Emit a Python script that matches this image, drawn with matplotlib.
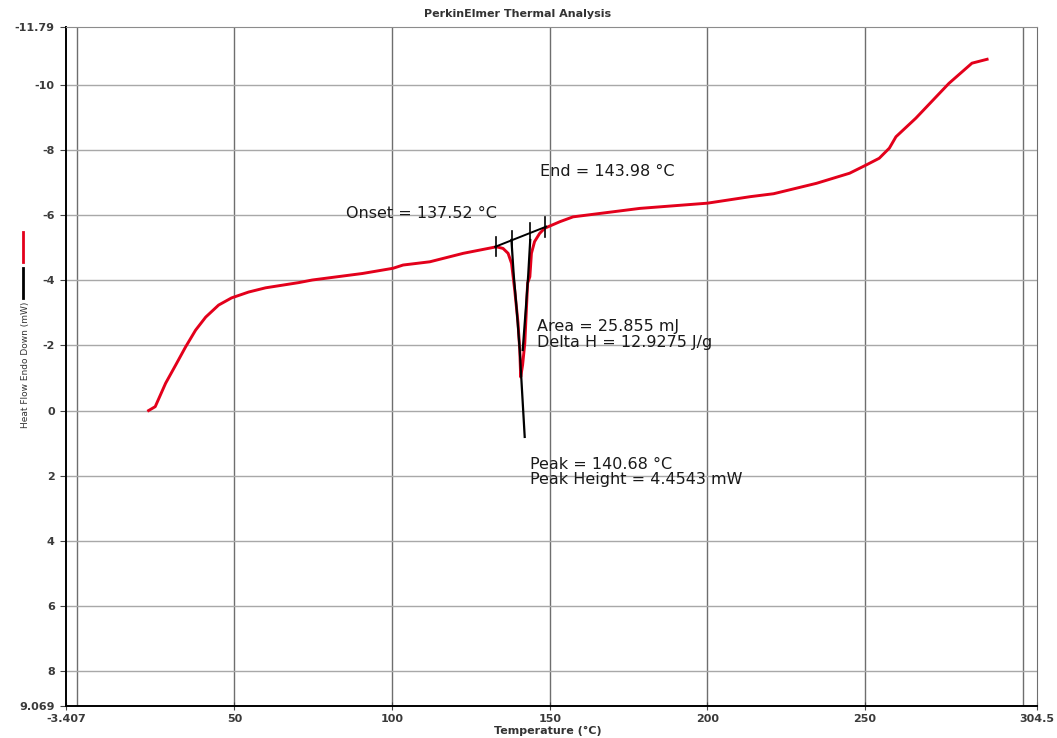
import matplotlib
matplotlib.use('Agg')
import numpy as np
import matplotlib.pyplot as plt
from matplotlib.lines import Line2D

plt.rcParams['font.family'] = ['DejaVu Sans']

# 主曲线 (红色) 读数
temp = [22.8, 24.9, 28.2, 31.4, 34.5, 37.7, 40.9, 45.0, 49.1, 54.5, 59.9, 70.4, 74.7,
        90.6, 100.3, 103.5, 112.0, 122.6, 133.1, 135.2, 136.8, 137.9, 138.4, 138.9,
        139.95, 140.5, 140.8, 141.4, 142.1, 143.0, 143.7, 144.2, 145.2, 146.8, 148.4,
        153.2, 157.4, 178.6, 200.0, 213.6, 221.0, 234.6, 245.1, 250.3, 254.5, 257.7,
        259.8, 266.1, 276.6, 283.9, 288.7]
heat_flow = [0.0, -0.12, -0.84, -1.40, -1.95, -2.47, -2.87, -3.24, -3.46, -3.64, -3.77,
             -3.93, -4.01, -4.21, -4.37, -4.47, -4.57, -4.83, -5.03, -4.98, -4.83, -4.52,
             -4.11, -3.70, -2.69, -1.86, -1.03, -1.40, -2.07, -3.92, -4.11, -4.83, -5.19,
             -5.44, -5.60, -5.80, -5.95, -6.21, -6.37, -6.57, -6.66, -6.98, -7.29, -7.54,
             -7.75, -8.06, -8.41, -8.98, -10.05, -10.67, -10.79]

# 峰区域 (黑色)
peak_left_x = [137.86, 138.59, 139.54, 140.49, 141.12, 141.76, 142.07]
peak_left_y = [-5.24, -4.16, -3.09, -1.86, -0.78, 0.29, 0.81]
peak_right_x = [141.44, 142.39, 143.18, 143.82]
peak_right_y = [-1.86, -3.09, -4.16, -5.24]
base_x = [132.7, 148.9]
base_y = [-5.03, -5.65]
marker_x = [133.1, 137.9, 143.7, 148.4]

xtick_pos = [-3.407, 50, 100, 150, 200, 250, 304.5]
xtick_lab = ['-3.407', '50', '100', '150', '200', '250', '304.5']
ytick_pos = [-11.79, -10, -8, -6, -4, -2, 0, 2, 4, 6, 8, 9.069]
ytick_lab = ['-11.79', '-10', '-8', '-6', '-4', '-2', '0', '2', '4', '6', '8', '9.069']
xgrid = [0, 50, 100, 150, 200, 250, 300]
ygrid = [-10, -8, -6, -4, -2, 0, 2, 4, 6, 8]

fig = plt.figure(figsize=(10.57, 7.38), dpi=100)
ax = fig.add_axes([0.0624, 0.0436, 0.9186, 0.9202])

# 网格线
for gx in xgrid:
    ax.axvline(gx, color='#6e6e6e', lw=1.0, zorder=0)
for gy in ygrid:
    ax.axhline(gy, color='#a8a8a8', lw=1.0, zorder=0)

ax.plot(temp, heat_flow, color='#e3001b', lw=2.1, zorder=3)
ax.plot(peak_left_x, peak_left_y, color='black', lw=1.6, zorder=4)
ax.plot(peak_right_x, peak_right_y, color='black', lw=1.6, zorder=4)
ax.plot(base_x, base_y, color='black', lw=1.4, zorder=4)
slope = (base_y[1] - base_y[0]) / (base_x[1] - base_x[0])
for mx in marker_x:
    yb = base_y[0] + slope * (mx - base_x[0])
    ax.plot([mx, mx], [yb - 0.3, yb + 0.3], color='black', lw=1.2, zorder=4)

ax.set_xlim(-3.407, 304.5)
ax.set_ylim(9.069, -11.79)

ax.set_xticks(xtick_pos)
ax.set_xticklabels(xtick_lab)
ax.set_yticks(ytick_pos)
ax.set_yticklabels(ytick_lab)
ax.tick_params(axis='both', which='major', labelsize=8, labelcolor='#3a3a3a', width=0.8, color='#444444')
ax.tick_params(axis='x', which='major', direction='inout', length=6, pad=3)
ax.tick_params(axis='y', which='major', direction='out', length=4, pad=4)
for lab in ax.get_xticklabels() + ax.get_yticklabels():
    lab.set_fontweight('bold')

ax.spines['left'].set_linewidth(1.4)
ax.spines['bottom'].set_linewidth(1.4)
ax.spines['top'].set_color('#8c8c8c')
ax.spines['right'].set_color('#6e6e6e')

txt = dict(fontsize=11.5, color='#1a1a1a', va='center', ha='left', zorder=5)
ax.text(146.8, -7.33, 'End = 143.98 °C', **txt)
ax.text(85.5, -6.06, 'Onset = 137.52 °C', **txt)
ax.text(146.0, -2.59, 'Area = 25.855 mJ', **txt)
ax.text(146.0, -2.10, 'Delta H = 12.9275 J/g', **txt)
ax.text(143.7, 1.65, 'Peak = 140.68 °C', **txt)
ax.text(143.7, 2.12, 'Peak Height = 4.4543 mW', **txt)

fig.text(0.49, 0.981, 'PerkinElmer Thermal Analysis', fontsize=8, fontweight='bold',
         color='#333333', ha='center', va='center')
fig.text(0.518, 0.009, 'Temperature (°C)', fontsize=8, fontweight='bold',
         color='#333333', ha='center', va='center')
fig.text(0.024, 0.505, 'Heat Flow Endo Down (mW)', fontsize=6.5, rotation=90,
         color='#333333', ha='center', va='center')

fig.add_artist(Line2D([0.0218, 0.0218], [0.686, 0.645], color='#e3001b', lw=2,
                      transform=fig.transFigure))
fig.add_artist(Line2D([0.0218, 0.0218], [0.637, 0.596], color='black', lw=2,
                      transform=fig.transFigure))

fig.savefig('out.png', dpi=100)
